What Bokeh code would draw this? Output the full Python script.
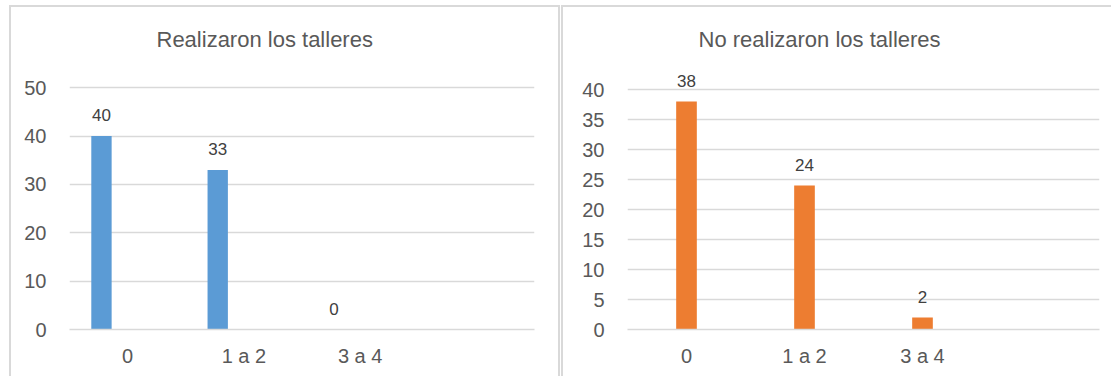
from bokeh.plotting import figure
from bokeh.models import ColumnDataSource, FactorRange, Range1d, FixedTicker, Spacer
from bokeh.layouts import row
from bokeh.transform import dodge
from bokeh.core.properties import value
from bokeh.embed import file_html
from bokeh.resources import INLINE

# ---- data ----
categories = ["0", "1 a 2", "3 a 4"]
axis_factors = ["0", "1 a 2", "3 a 4", " "]
realizaron = [40, 33, 0]
no_realizaron = [38, 24, 2]
ticks_left = [0, 10, 20, 30, 40, 50]
ticks_right = [0, 5, 10, 15, 20, 25, 30, 35, 40]
title_left = "Realizaron los talleres"
title_right = "No realizaron los talleres"

FONT = "Liberation Sans"
TXT = "#595959"
GRID = "#D9D9D9"
BLUE = "#5B9BD5"
ORANGE = "#ED7D31"


def make_fig(title, values, color, yend, ticks, w, h, bl, br, bt, bb, shift, title_offset, styles):
    p = figure(
        x_range=FactorRange(*axis_factors, range_padding=0),
        y_range=Range1d(0, yend),
        width=w, height=h,
        min_border_left=bl, min_border_right=br, min_border_top=bt, min_border_bottom=bb,
        output_backend="svg", toolbar_location=None,
    )
    p.styles = styles
    p.outline_line_color = None
    p.background_fill_color = "white"
    p.border_fill_color = "white"

    p.title.text = title
    p.title.text_font = FONT
    p.title.text_font_size = "22px"
    p.title.text_font_style = "normal"
    p.title.text_color = TXT
    p.title.align = "left"
    p.title.offset = title_offset
    p.title.standoff = 22

    src = ColumnDataSource(dict(cat=categories, val=values, lbl=[str(v) for v in values]))
    xpos = dodge("cat", shift, range=p.x_range)
    p.vbar(x=xpos, top="val", bottom=0, width=0.175, source=src,
           fill_color=color, line_color=None)
    p.text(x=xpos, y="val", text="lbl", source=src, y_offset=-21,
           text_align="center", text_baseline="middle",
           text_font=value(FONT), text_font_size="17px", text_color="#404040")

    p.xgrid.grid_line_color = None
    p.ygrid.grid_line_color = GRID
    p.ygrid.grid_line_width = 1.5
    p.yaxis.ticker = FixedTicker(ticks=ticks)
    p.yaxis.axis_line_color = None
    p.yaxis.major_tick_line_color = None
    p.yaxis.minor_tick_line_color = None
    p.yaxis.major_label_standoff = 17
    p.xaxis.axis_line_color = GRID
    p.xaxis.axis_line_width = 1.5
    p.xaxis.major_tick_line_color = None
    p.xaxis.minor_tick_line_color = None
    p.xaxis.major_label_standoff = 9
    for ax in (p.xaxis, p.yaxis):
        ax.major_label_text_font = FONT
        ax.major_label_text_font_size = "20px"
        ax.major_label_text_color = TXT
    return p


border = "2px solid #D9D9D9"
p1 = make_fig(title_left, realizaron, BLUE, 55.2, ticks_left, 551, 371, 58, 28, 55, 49, -0.225, 87,
              {"border-left": border, "border-top": border, "border-right": border,
               "margin-top": "5px"})
p2 = make_fig(title_right, no_realizaron, ORANGE, 44.5, ticks_right, 550, 371, 64, 14, 55, 46, 0.0, 71,
              {"border-left": border, "border-top": border, "margin-top": "5px"})

layout = row(Spacer(width=9, height=10), p1, Spacer(width=1, height=10), p2)

open("out.html", "w").write(file_html(layout, INLINE))
